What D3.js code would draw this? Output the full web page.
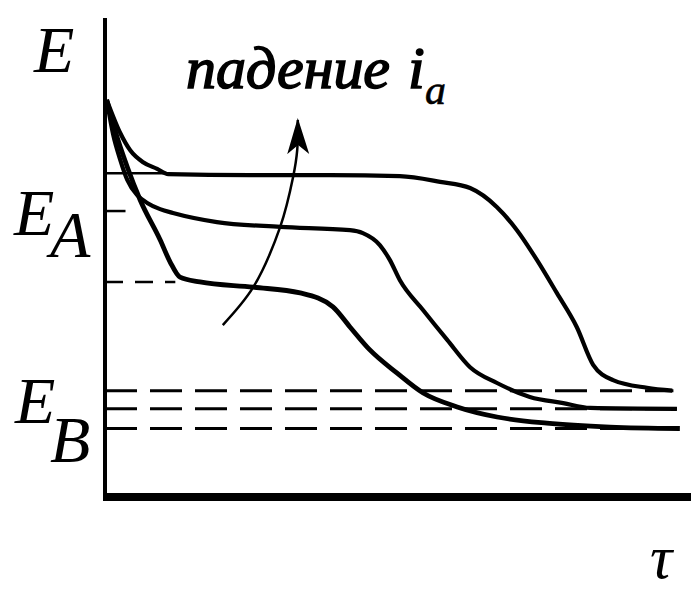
<!DOCTYPE html>
<html>
<head>
<meta charset="utf-8">
<script src="https://cdn.jsdelivr.net/npm/d3@7"></script>
<style>
  body { margin: 0; background: #fff; }
  text { font-family: "Liberation Serif", "Times New Roman", serif; font-style: italic; fill: #000; }
</style>
</head>
<body>
<div id="chart"></div>
<script>
// curves: tau vs E (tau 0..10, E 0..10)
const curveTop = [
  [0.03, 8.29], [0.26, 7.60], [0.43, 7.24], [0.65, 6.99], [0.89, 6.85], [1.08, 6.74],
  [2.47, 6.72], [3.84, 6.72], [5.03, 6.70], [5.72, 6.58], [6.23, 6.45], [6.69, 6.05],
  [7.03, 5.57], [7.37, 4.95], [7.71, 4.26], [8.05, 3.55], [8.33, 2.76], [8.67, 2.44],
  [9.25, 2.28], [9.68, 2.22]
];
const curveMid = [
  [0.03, 8.29], [0.14, 7.56], [0.26, 7.04], [0.38, 6.62], [0.55, 6.30], [0.72, 6.14],
  [0.94, 6.01], [1.16, 5.93], [1.91, 5.74], [2.99, 5.64], [4.18, 5.57], [4.40, 5.51],
  [4.69, 5.26], [4.86, 4.95], [5.03, 4.53], [5.43, 3.90], [5.84, 3.28], [6.23, 2.71],
  [6.69, 2.38], [7.25, 2.09], [7.82, 1.96], [8.28, 1.86], [9.76, 1.84]
];
const curveLow = [
  [0.03, 8.29], [0.17, 7.66], [0.38, 6.89], [0.60, 6.20], [0.94, 5.37], [1.11, 4.91],
  [1.28, 4.59], [1.62, 4.49], [2.53, 4.38], [3.33, 4.26], [3.89, 3.97], [4.18, 3.55],
  [4.52, 3.07], [4.98, 2.59], [5.43, 2.17], [6.01, 1.88], [6.69, 1.67], [7.54, 1.54],
  [8.62, 1.46], [9.81, 1.43]
];

// reference levels: [E, tau end, dashed?]
const levelsA = [[6.76, 1.08, false], [5.97, 0.35, false], [4.49, 1.2, true]];
const levelsB = [[2.22, 9.7, true], [1.84, 9.8, true], [1.43, 9.85, true]];

// arrow "падение i_a"
const arrowPts = [[2.01, 3.59], [2.53, 4.38], [2.99, 5.64], [3.21, 6.68], [3.28, 7.24], [3.29, 7.87]];

const width = 691, height = 591;
const x = d3.scaleLinear().domain([0, 10]).range([105, 691]);
const y = d3.scaleLinear().domain([0, 10]).range([497, 18]);

const svg = d3.select("#chart").append("svg")
  .attr("width", width)
  .attr("height", height);

svg.append("defs").append("marker")
  .attr("id", "head")
  .attr("viewBox", "0 0 36 24")
  .attr("markerUnits", "userSpaceOnUse")
  .attr("markerWidth", 36)
  .attr("markerHeight", 24)
  .attr("refX", 34)
  .attr("refY", 12)
  .attr("orient", "auto")
  .append("path")
  .attr("d", "M0,1 L36,12 L0,23 L9,12 Z")
  .attr("fill", "#000");

// reference lines
svg.selectAll(".lvlA")
  .data(levelsA)
  .enter()
  .append("line")
  .attr("x1", x(0))
  .attr("x2", d => x(d[1]))
  .attr("y1", d => y(d[0]))
  .attr("y2", d => y(d[0]))
  .attr("stroke", "#000")
  .attr("stroke-width", 2.5)
  .attr("stroke-dasharray", d => d[2] ? "18,12" : null);

svg.selectAll(".lvlB")
  .data(levelsB)
  .enter()
  .append("line")
  .attr("x1", x(0))
  .attr("x2", d => x(d[1]))
  .attr("y1", d => y(d[0]))
  .attr("y2", d => y(d[0]))
  .attr("stroke", "#000")
  .attr("stroke-width", 3)
  .attr("stroke-dasharray", "32,13");

const line = d3.line()
  .x(d => x(d[0]))
  .y(d => y(d[1]))
  .curve(d3.curveMonotoneX);

svg.selectAll(".curve")
  .data([curveTop, curveMid, curveLow])
  .enter()
  .append("path")
  .attr("fill", "none")
  .attr("stroke", "#000")
  .attr("stroke-width", (d, i) => i === 2 ? 4.8 : 4.2)
  .attr("stroke-linejoin", "round")
  .attr("d", line);

// arrow
svg.append("path")
  .attr("fill", "none")
  .attr("stroke", "#000")
  .attr("stroke-width", 2.5)
  .attr("marker-end", "url(#head)")
  .attr("d", d3.line().x(d => x(d[0])).y(d => y(d[1])).curve(d3.curveCatmullRom)(arrowPts));

// axes
svg.append("line")
  .attr("x1", x(0)).attr("x2", x(0))
  .attr("y1", y(10)).attr("y2", y(0))
  .attr("stroke", "#000").attr("stroke-width", 4);
svg.append("line")
  .attr("x1", x(0) - 2).attr("x2", x(10))
  .attr("y1", y(0)).attr("y2", y(0))
  .attr("stroke", "#000").attr("stroke-width", 8);

// labels
svg.append("text").attr("x", 34).attr("y", 72).attr("font-size", 66).text("E");

const ea = svg.append("text").attr("x", 14).attr("y", 235).attr("font-size", 66);
ea.append("tspan").text("E");
ea.append("tspan").attr("x", 50).attr("y", 257).text("A");

const eb = svg.append("text").attr("x", 15).attr("y", 423).attr("font-size", 66);
eb.append("tspan").text("E");
eb.append("tspan").attr("x", 50).attr("y", 462).text("B");

svg.append("text").attr("x", 650).attr("y", 578).attr("font-size", 62).text("τ");

const title = svg.append("text")
  .attr("x", 186).attr("y", 88)
  .attr("font-size", 60)
  .attr("stroke", "#000")
  .attr("stroke-width", 1.6);
title.append("tspan").attr("textLength", 204).attr("lengthAdjust", "spacingAndGlyphs").text("падение");
title.append("tspan").attr("x", 408).text("i");
title.append("tspan").attr("x", 425).attr("dy", 16).attr("font-size", 42)
  .attr("stroke-width", 0.6).text("a");
</script>
</body>
</html>
